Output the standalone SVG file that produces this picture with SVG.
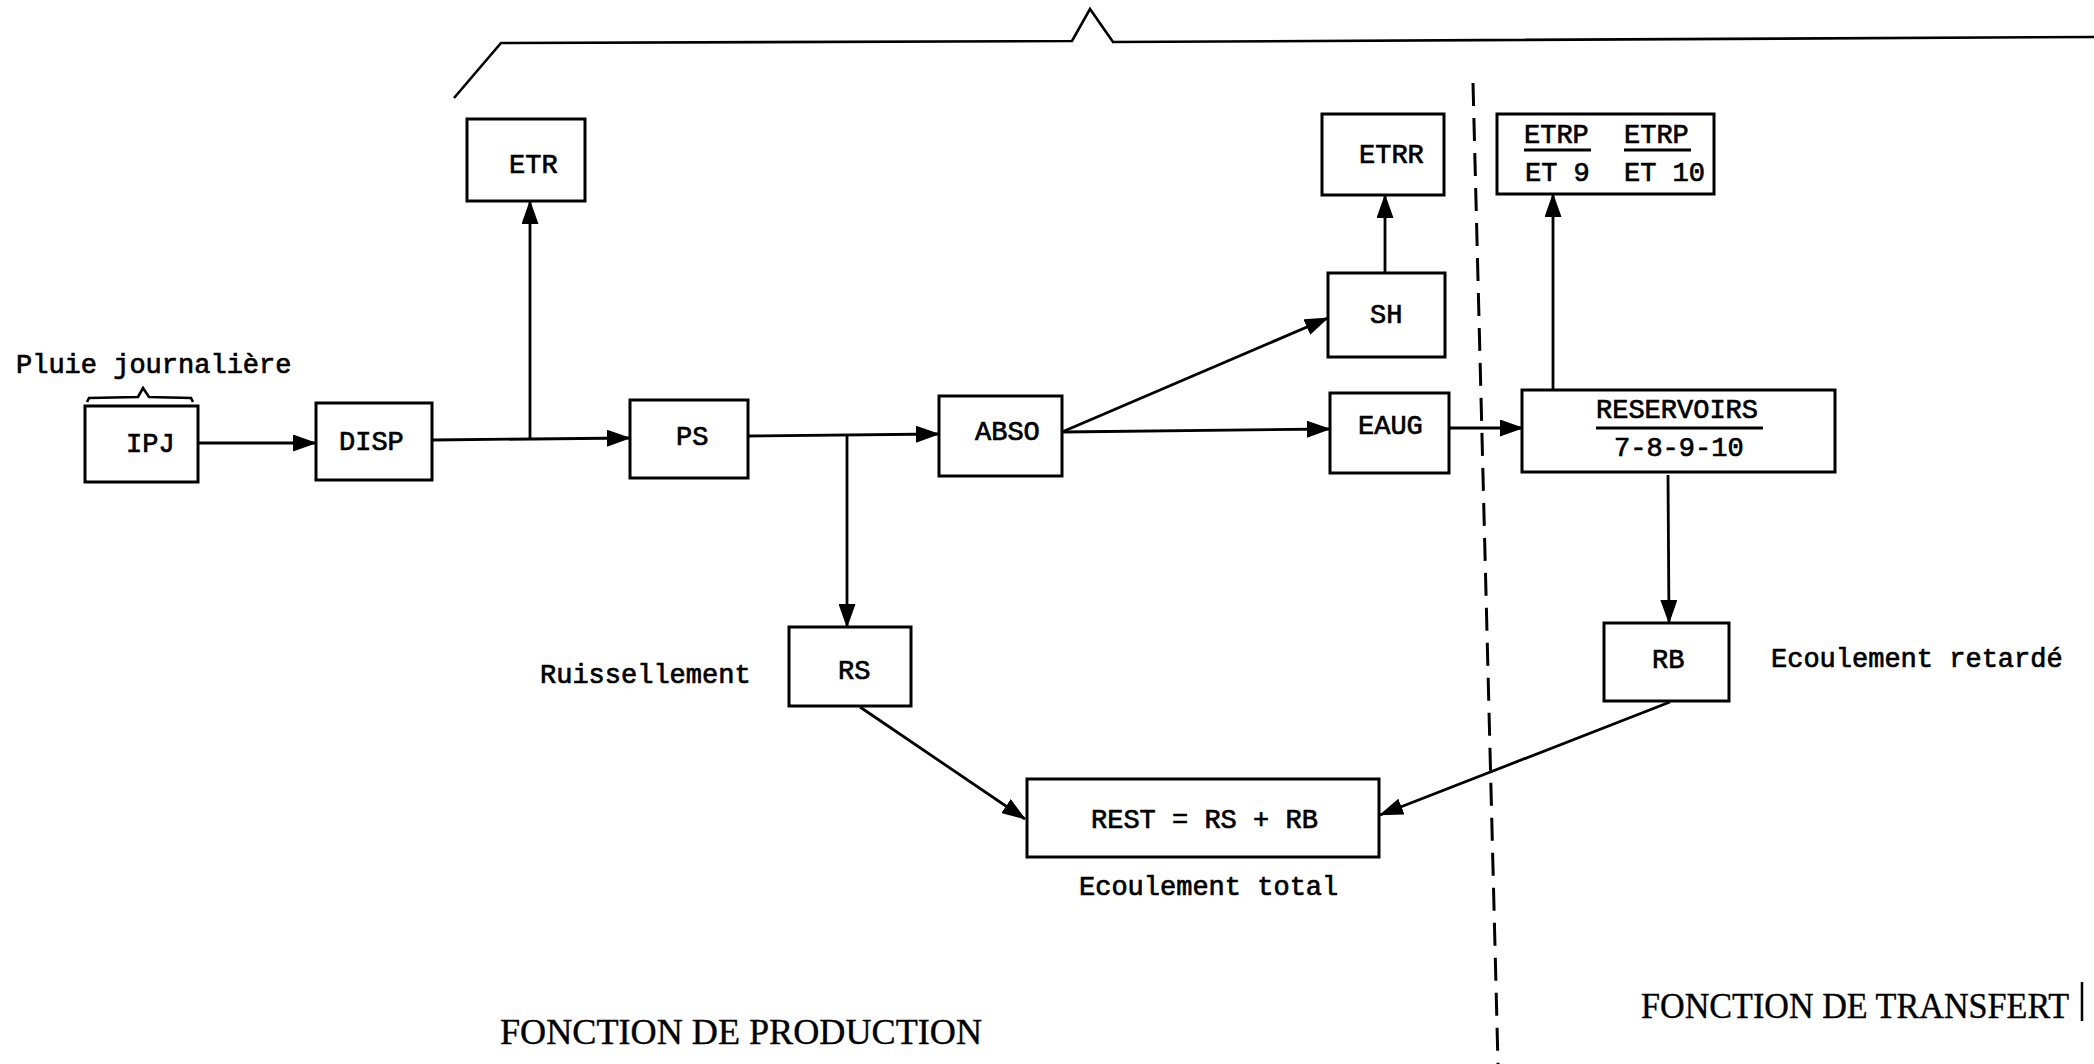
<svg xmlns="http://www.w3.org/2000/svg" width="2094" height="1064" viewBox="0 0 2094 1064">
<defs>
<marker id="ah" markerUnits="userSpaceOnUse" markerWidth="24" markerHeight="17" refX="23" refY="8.5" orient="auto">
<path d="M0,0 L24,8.5 L0,17 z" fill="#000"/>
</marker>
<style>
.box{fill:#fff;stroke:#000;stroke-width:3}
.t{font-family:"Liberation Mono","DejaVu Sans Mono",monospace;font-size:27px;fill:#000;stroke:#000;stroke-width:0.7}
.s{font-family:"Liberation Serif","Times New Roman",serif;font-size:36px;fill:#000;stroke:#000;stroke-width:0.4}
.c{fill:none;stroke:#000;stroke-width:2.6}
.a{fill:none;stroke:#000;stroke-width:2.8;marker-end:url(#ah)}
.u{stroke:#000;stroke-width:3}
</style>
</defs>
<rect width="2094" height="1064" fill="#fff"/>

<g id="braces">
<path class="c" d="M454,98 L501,43 L1072,41 L1090,9 L1113,42 L2094,37" stroke-width="3"/>
<path class="c" d="M87,402 L89,398 L138,397 L143,388 L149,397 L191,398 L193,402" stroke-width="2.2"/>
</g>

<g id="divider">
<line x1="1473" y1="83" x2="1498" y2="1064" stroke="#000" stroke-width="3" stroke-dasharray="23 12"/>
</g>

<g id="connectors">
<line class="a" x1="198" y1="443" x2="316" y2="443"/>
<line class="a" x1="432" y1="440" x2="630" y2="438"/>
<line class="a" x1="530" y1="440" x2="530" y2="201"/>
<line class="a" x1="748" y1="436" x2="939" y2="434"/>
<line class="a" x1="847" y1="436" x2="847" y2="627"/>
<line class="a" x1="1062" y1="432" x2="1328" y2="318"/>
<line class="a" x1="1062" y1="432" x2="1330" y2="429"/>
<line class="a" x1="1385" y1="273" x2="1385" y2="195"/>
<line class="a" x1="1449" y1="428" x2="1523" y2="428"/>
<line class="a" x1="1553" y1="390" x2="1553" y2="194"/>
<line class="a" x1="1668" y1="475" x2="1669" y2="623"/>
<line class="a" x1="860" y1="707" x2="1025" y2="819"/>
<line class="a" x1="1670" y1="702" x2="1380" y2="815"/>
</g>

<g id="IPJ">
<rect class="box" x="85" y="406" width="113" height="76"/>
<text class="t" x="126" y="452">IPJ</text>
</g>
<g id="pluie-label">
<text class="t" x="16" y="373">Pluie journalière</text>
</g>
<g id="DISP">
<rect class="box" x="316" y="403" width="116" height="77"/>
<text class="t" x="339" y="450">DISP</text>
</g>
<g id="ETR">
<rect class="box" x="467" y="119" width="118" height="82"/>
<text class="t" x="509" y="173">ETR</text>
</g>
<g id="PS">
<rect class="box" x="630" y="400" width="118" height="78"/>
<text class="t" x="676" y="445">PS</text>
</g>
<g id="ABSO">
<rect class="box" x="939" y="396" width="123" height="80"/>
<text class="t" x="975" y="440">ABSO</text>
</g>
<g id="SH">
<rect class="box" x="1328" y="273" width="117" height="84"/>
<text class="t" x="1370" y="323">SH</text>
</g>
<g id="ETRR">
<rect class="box" x="1322" y="114" width="122" height="81"/>
<text class="t" x="1359" y="163">ETRR</text>
</g>
<g id="EAUG">
<rect class="box" x="1330" y="393" width="119" height="80"/>
<text class="t" x="1358" y="434">EAUG</text>
</g>
<g id="ETRP">
<rect class="box" x="1497" y="114" width="217" height="80"/>
<text class="t" x="1524" y="143">ETRP</text>
<line class="u" x1="1524" y1="150" x2="1591" y2="150"/>
<text class="t" x="1525" y="181">ET 9</text>
<text class="t" x="1624" y="143">ETRP</text>
<line class="u" x1="1624" y1="150" x2="1691" y2="150"/>
<text class="t" x="1624" y="181">ET 10</text>
</g>
<g id="RESERVOIRS">
<rect class="box" x="1522" y="390" width="313" height="82"/>
<text class="t" x="1596" y="418">RESERVOIRS</text>
<line class="u" x1="1596" y1="428" x2="1763" y2="428"/>
<text class="t" x="1614" y="456">7-8-9-10</text>
</g>
<g id="RS">
<rect class="box" x="789" y="627" width="122" height="79"/>
<text class="t" x="838" y="679">RS</text>
</g>
<g id="ruissellement-label">
<text class="t" x="540" y="683">Ruissellement</text>
</g>
<g id="RB">
<rect class="box" x="1604" y="623" width="125" height="78"/>
<text class="t" x="1652" y="668">RB</text>
</g>
<g id="retarde-label">
<text class="t" x="1771" y="667">Ecoulement retardé</text>
</g>
<g id="REST">
<rect class="box" x="1027" y="779" width="352" height="78"/>
<text class="t" x="1091" y="828">REST = RS + RB</text>
</g>
<g id="total-label">
<text class="t" x="1079" y="895">Ecoulement total</text>
</g>

<g id="titles">
<text class="s" x="500" y="1044" textLength="482" lengthAdjust="spacingAndGlyphs">FONCTION DE PRODUCTION</text>
<text class="s" x="1641" y="1018" textLength="428" lengthAdjust="spacingAndGlyphs">FONCTION DE TRANSFERT</text>
<line x1="2082" y1="982" x2="2082" y2="1021" stroke="#000" stroke-width="2.5"/>
</g>
</svg>
